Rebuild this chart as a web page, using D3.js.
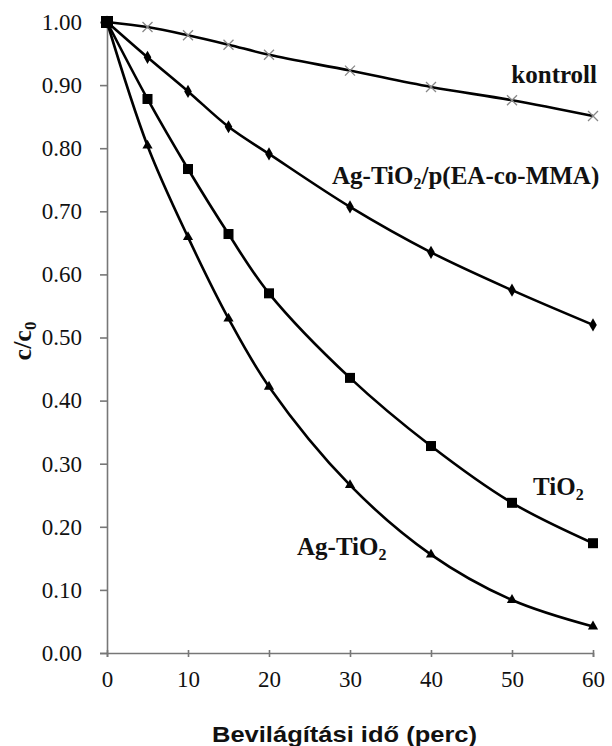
<!DOCTYPE html>
<html><head><meta charset="utf-8">
<script src="https://cdn.jsdelivr.net/npm/d3@7"></script>
<style>body{margin:0;background:#fff} .sf{font-family:"Liberation Serif","Times New Roman",Tinos,"DejaVu Serif",serif}</style></head>
<body><svg id="c" width="612" height="746"></svg>
<script>
const times = [0, 5, 10, 15, 20, 30, 40, 50, 60];
const kontroll = [1.00, 0.992, 0.979, 0.964, 0.948, 0.923, 0.897, 0.876, 0.851];
const agTiO2Poly = [1.00, 0.944, 0.890, 0.834, 0.791, 0.707, 0.635, 0.575, 0.520];
const tiO2 = [1.00, 0.878, 0.767, 0.664, 0.570, 0.436, 0.328, 0.238, 0.174];
const agTiO2 = [1.00, 0.804, 0.659, 0.530, 0.422, 0.266, 0.156, 0.084, 0.042];
const xTicks = [0, 10, 20, 30, 40, 50, 60];
const yTicks = [0, 0.1, 0.2, 0.3, 0.4, 0.5, 0.6, 0.7, 0.8, 0.9, 1.0];

const svg = d3.select("#c");
const x = d3.scaleLinear().domain([0, 60]).range([107, 593]);
const y = d3.scaleLinear().domain([0, 1]).range([653, 22]);

// axes
const gy = svg.append("g").attr("transform", "translate(107,0)")
  .call(d3.axisLeft(y).tickValues(yTicks).tickFormat(d3.format(".2f")).tickSize(7).tickPadding(18));
const gx = svg.append("g").attr("transform", "translate(0,653)")
  .call(d3.axisBottom(x).tickValues(xTicks).tickSize(4).tickPadding(14));
[gy, gx].forEach(g => {
  g.attr("font-family", null).attr("font-size", null).attr("class", "sf");
  g.select(".domain").attr("stroke", "#777").attr("stroke-width", 1.6);
  g.selectAll(".tick line").attr("stroke", "#777").attr("stroke-width", 1.6);
  g.selectAll("text").attr("class", "sf").style("font-size", "23px").attr("fill", "#111");
});
gx.selectAll(".tick line").attr("y1", -3);

const line = d3.line().x((d, i) => x(times[i])).y(d => y(d)).curve(d3.curveCatmullRom.alpha(0.5));
const series = [
  {v: kontroll, m: "x"},
  {v: agTiO2Poly, m: "diamond"},
  {v: tiO2, m: "square"},
  {v: agTiO2, m: "triangle"}
];
series.forEach(s => {
  svg.append("path").attr("d", line(s.v)).attr("fill", "none").attr("stroke", "#000").attr("stroke-width", 2.6);
});
series.forEach(s => {
  const g = svg.append("g");
  s.v.forEach((d, i) => {
    const cx = x(times[i]), cy = y(d);
    if (s.m === "x") {
      g.append("path").attr("d", `M${cx-5},${cy-5}L${cx+5},${cy+5}M${cx-5},${cy+5}L${cx+5},${cy-5}`)
        .attr("stroke", "#888").attr("stroke-width", 1.3);
    } else if (s.m === "diamond") {
      g.append("path").attr("d", d3.symbol(d3.symbolDiamond, 50)()).attr("transform", `translate(${cx},${cy})`).attr("fill", "#000");
    } else if (s.m === "square") {
      g.append("rect").attr("x", cx - 5).attr("y", cy - 5).attr("width", 10).attr("height", 10).attr("fill", "#000");
    } else {
      g.append("path").attr("d", d3.symbol(d3.symbolTriangle, 45)()).attr("transform", `translate(${cx},${cy})`).attr("fill", "#000");
    }
  });
});
svg.append("rect").attr("x", x(0) - 6).attr("y", y(1) - 6).attr("width", 12).attr("height", 12).attr("fill", "#000");

// labels
function lbl(tx, ty, parts, anchor) {
  const t = svg.append("text").attr("x", tx).attr("y", ty).attr("class", "sf")
    .attr("font-weight", "bold").style("font-size", "25px").attr("text-anchor", anchor || "start").attr("fill", "#111");
  parts.forEach(p => {
    if (p.sub) t.append("tspan").style("font-size", "16px").attr("dy", 5).text(p.t);
    else t.append("tspan").attr("dy", p.after ? -5 : 0).text(p.t);
  });
}
lbl(597, 83, [{t: "kontroll"}], "end");
lbl(332, 184, [{t: "Ag-TiO"}, {t: "2", sub: true}, {t: "/p(EA-co-MMA)", after: true}]);
lbl(533, 495, [{t: "TiO"}, {t: "2", sub: true}]);
lbl(297, 555, [{t: "Ag-TiO"}, {t: "2", sub: true}]);

// axis titles
const yt = svg.append("text").attr("transform", "translate(31,341) rotate(-90)").attr("text-anchor", "middle")
  .attr("class", "sf").attr("font-weight", "bold").style("font-size", "26px").attr("fill", "#111");
yt.append("tspan").text("c/c");
yt.append("tspan").style("font-size", "17px").attr("dy", 5).text("0");
svg.append("text").attr("x", 212).attr("y", 742)
  .attr("font-family", "'Liberation Sans',Arial,sans-serif").attr("font-weight", "bold").attr("font-size", 22)
  .attr("textLength", 265).attr("lengthAdjust", "spacingAndGlyphs")
  .attr("fill", "#111").text("Bevilágítási  idő (perc)");
</script></body></html>
